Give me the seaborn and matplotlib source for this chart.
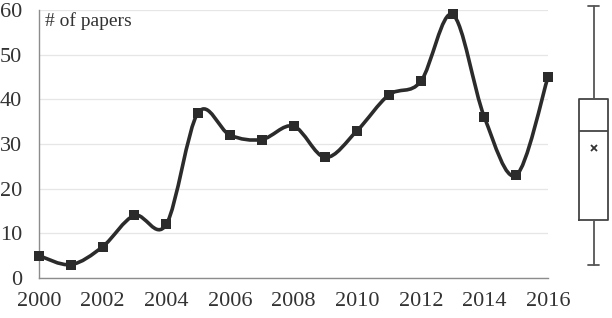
import numpy as np
import pandas as pd
import seaborn as sns
import matplotlib
matplotlib.use("Agg")
import matplotlib.pyplot as plt
from matplotlib.path import Path
from matplotlib.patches import PathPatch

years = [2000, 2001, 2002, 2003, 2004, 2005, 2006, 2007, 2008,
         2009, 2010, 2011, 2012, 2013, 2014, 2015, 2016]
papers = [5, 3, 7, 14, 12, 37, 32, 31, 34, 27, 33, 41, 44, 59, 36, 23, 45]
y_ticks = [0, 10, 20, 30, 40, 50, 60]
x_tick_labels = [2000, 2002, 2004, 2006, 2008, 2010, 2012, 2014, 2016]
y_label = "# of papers"

# box plot summary (as displayed)
box_low = 3
box_q1 = 13
box_med = 33
box_q3 = 40
box_high = 61
box_mean = 29

sns.set_theme(style="white")
plt.rcParams['font.family'] = ['Liberation Serif', 'DejaVu Serif']

fig = plt.figure(figsize=(6.12, 3.18), dpi=100)
ax = fig.add_axes([39/612, 40/318, (548-39)/612, (278-10)/318])

df = pd.DataFrame({"year": years, "papers": papers})
line_color = "#2b2b2b"
text_color = "#333333"

# smoothed line as cubic Bezier (Catmull-Rom style) through the data points
x = np.array(years, dtype=float)
y = np.array(papers, dtype=float)
verts = [(x[0], y[0])]
codes = [Path.MOVETO]
n = len(x)
for i in range(n - 1):
    p0 = np.array([x[max(i-1, 0)], y[max(i-1, 0)]])
    p1 = np.array([x[i], y[i]])
    p2 = np.array([x[i+1], y[i+1]])
    p3 = np.array([x[min(i+2, n-1)], y[min(i+2, n-1)]])
    c1 = p1 + (p2 - p0) / 6.0
    c2 = p2 - (p3 - p1) / 6.0
    verts += [tuple(c1), tuple(c2), tuple(p2)]
    codes += [Path.CURVE4] * 3
patch = PathPatch(Path(verts, codes), facecolor="none", edgecolor=line_color,
                  lw=2.6, zorder=3, capstyle="round", joinstyle="round",
                  clip_on=False)
ax.add_patch(patch)

sns.scatterplot(data=df, x="year", y="papers", marker="s", s=62,
                color=line_color, edgecolor=line_color, linewidth=0,
                zorder=4, ax=ax, legend=False, clip_on=False)

ax.set_xlim(2000, 2016)
ax.set_ylim(0, 60)
ax.set_yticks(y_ticks)
ax.set_xticks(x_tick_labels)
ax.set_xticks(years, minor=True)
ax.set_xlabel("")
ax.set_ylabel("")
ax.grid(axis="y", color="#e6e6e6", lw=0.9)
ax.set_axisbelow(True)
for s in ["top", "right"]:
    ax.spines[s].set_visible(False)
for s in ["left", "bottom"]:
    ax.spines[s].set_color("#8c8c8c")
    ax.spines[s].set_linewidth(1.0)
ax.tick_params(axis="x", which="both", direction="out", length=5,
               color="#8c8c8c", width=1.0, labelsize=16, labelcolor=text_color, pad=5)
ax.tick_params(axis="y", direction="out", length=3, color="#8c8c8c",
               width=1.0, labelsize=16, labelcolor=text_color, pad=9)
ax.text(2000.2, 57.6, y_label, fontsize=14, color=text_color, va="center", ha="left")

# box plot axes
bax = fig.add_axes([570/612, 40/318, 42/612, (278-10)/318])
stats = [dict(med=box_med, q1=box_q1, q3=box_q3, whislo=box_low,
              whishi=box_high, mean=box_mean, fliers=[], label="")]
bax.bxp(stats, positions=[0.56], widths=0.69, showmeans=True, showfliers=False,
        boxprops=dict(color="#444444", lw=1.3),
        medianprops=dict(color="#444444", lw=1.3),
        whiskerprops=dict(color="#555555", lw=1.3),
        capprops=dict(color="#555555", lw=1.3),
        capwidths=0.25,
        meanprops=dict(marker="x", markeredgecolor="#333333", markersize=4,
                       markeredgewidth=1.3),
        patch_artist=False)
bax.set_xlim(0, 1)
bax.set_ylim(0, 60)
bax.axis("off")
for art in bax.get_children():
    try:
        art.set_clip_on(False)
    except Exception:
        pass

fig.savefig("out.png", dpi=100, facecolor="white")
